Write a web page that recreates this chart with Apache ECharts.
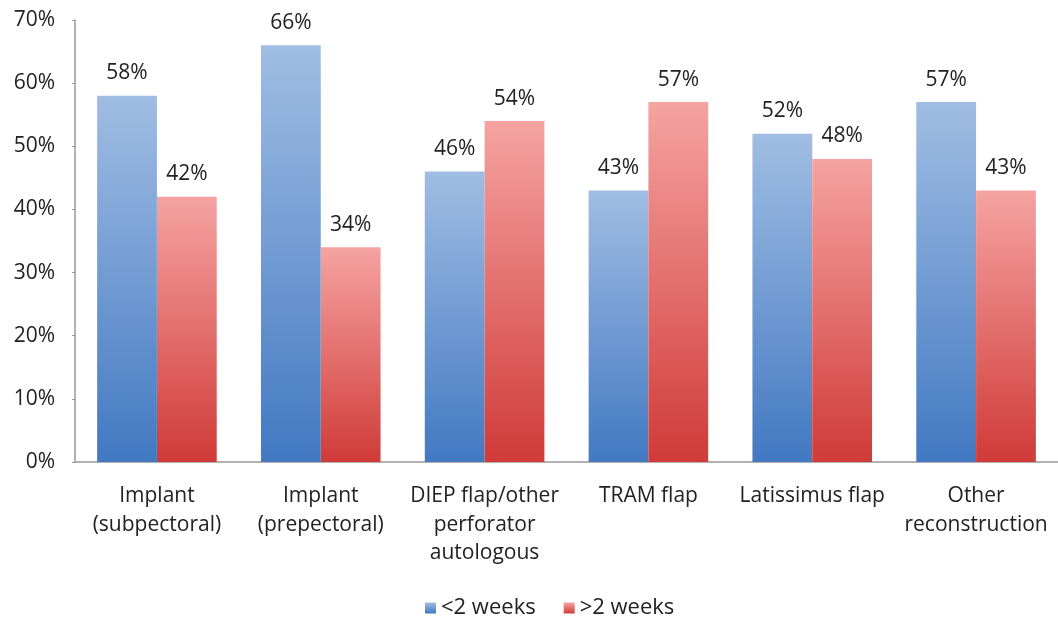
<!DOCTYPE html>
<html><head><meta charset="utf-8">
<script src="https://cdn.jsdelivr.net/npm/echarts@6/dist/echarts.min.js"></script>
<style>html,body{margin:0;padding:0;background:#fff}#c{width:1058px;height:622px}</style>
</head><body><div id="c"></div>
<script>
const categories = ['Implant\n(subpectoral)', 'Implant\n(prepectoral)', 'DIEP flap/other\nperforator\nautologous', 'TRAM flap', 'Latissimus flap', 'Other\nreconstruction'];
const seriesNames = ['<2 weeks', '>2 weeks'];
const under2 = [58, 66, 46, 43, 52, 57];
const over2 = [42, 34, 54, 57, 48, 43];
const yTicks = [0, 10, 20, 30, 40, 50, 60, 70];

const font = 'Open Sans';
function grad(top, bottom) {
  return new echarts.graphic.LinearGradient(0, 0, 0, 1, [{offset: 0, color: top}, {offset: 1, color: bottom}]);
}
const chart = echarts.init(document.getElementById('c'));
chart.setOption({
  animation: false,
  textStyle: {fontFamily: font},
  grid: {left: 75, right: 0, top: 20, bottom: 160, containLabel: false},
  legend: {
    bottom: -2, left: 420, itemWidth: 11, itemHeight: 11, itemGap: 28,
    icon: 'rect',
    textStyle: {fontSize: 22, color: '#222', fontFamily: font},
    data: seriesNames
  },
  xAxis: {
    type: 'category', data: categories,
    axisLine: {lineStyle: {color: '#999', width: 1.5}},
    axisTick: {show: false},
    axisLabel: {fontSize: 21, color: '#222', lineHeight: 28.5, margin: 20, interval: 0}
  },
  yAxis: {
    type: 'value', min: 0, max: 70, interval: 10,
    axisLine: {show: true, lineStyle: {color: '#999', width: 1.5}},
    axisTick: {show: true, length: 3, lineStyle: {color: '#999'}},
    splitLine: {show: false},
    axisLabel: {fontSize: 21, color: '#222', margin: 20, formatter: v => yTicks.includes(v) ? v + '%' : ''}
  },
  series: [
    {
      name: seriesNames[0], type: 'bar', data: under2, barGap: '0%', barCategoryGap: '27%',
      itemStyle: {color: grad('#a0bde3', '#4279c2')},
      label: {show: true, position: 'top', distance: 12, fontSize: 21, color: '#222', formatter: '{c}%'}
    },
    {
      name: seriesNames[1], type: 'bar', data: over2, barGap: '0%', barCategoryGap: '27%',
      itemStyle: {color: grad('#f5a3a2', '#d03b38')},
      label: {show: true, position: 'top', distance: 12, fontSize: 21, color: '#222', formatter: '{c}%'}
    }
  ]
});
</script></body></html>
